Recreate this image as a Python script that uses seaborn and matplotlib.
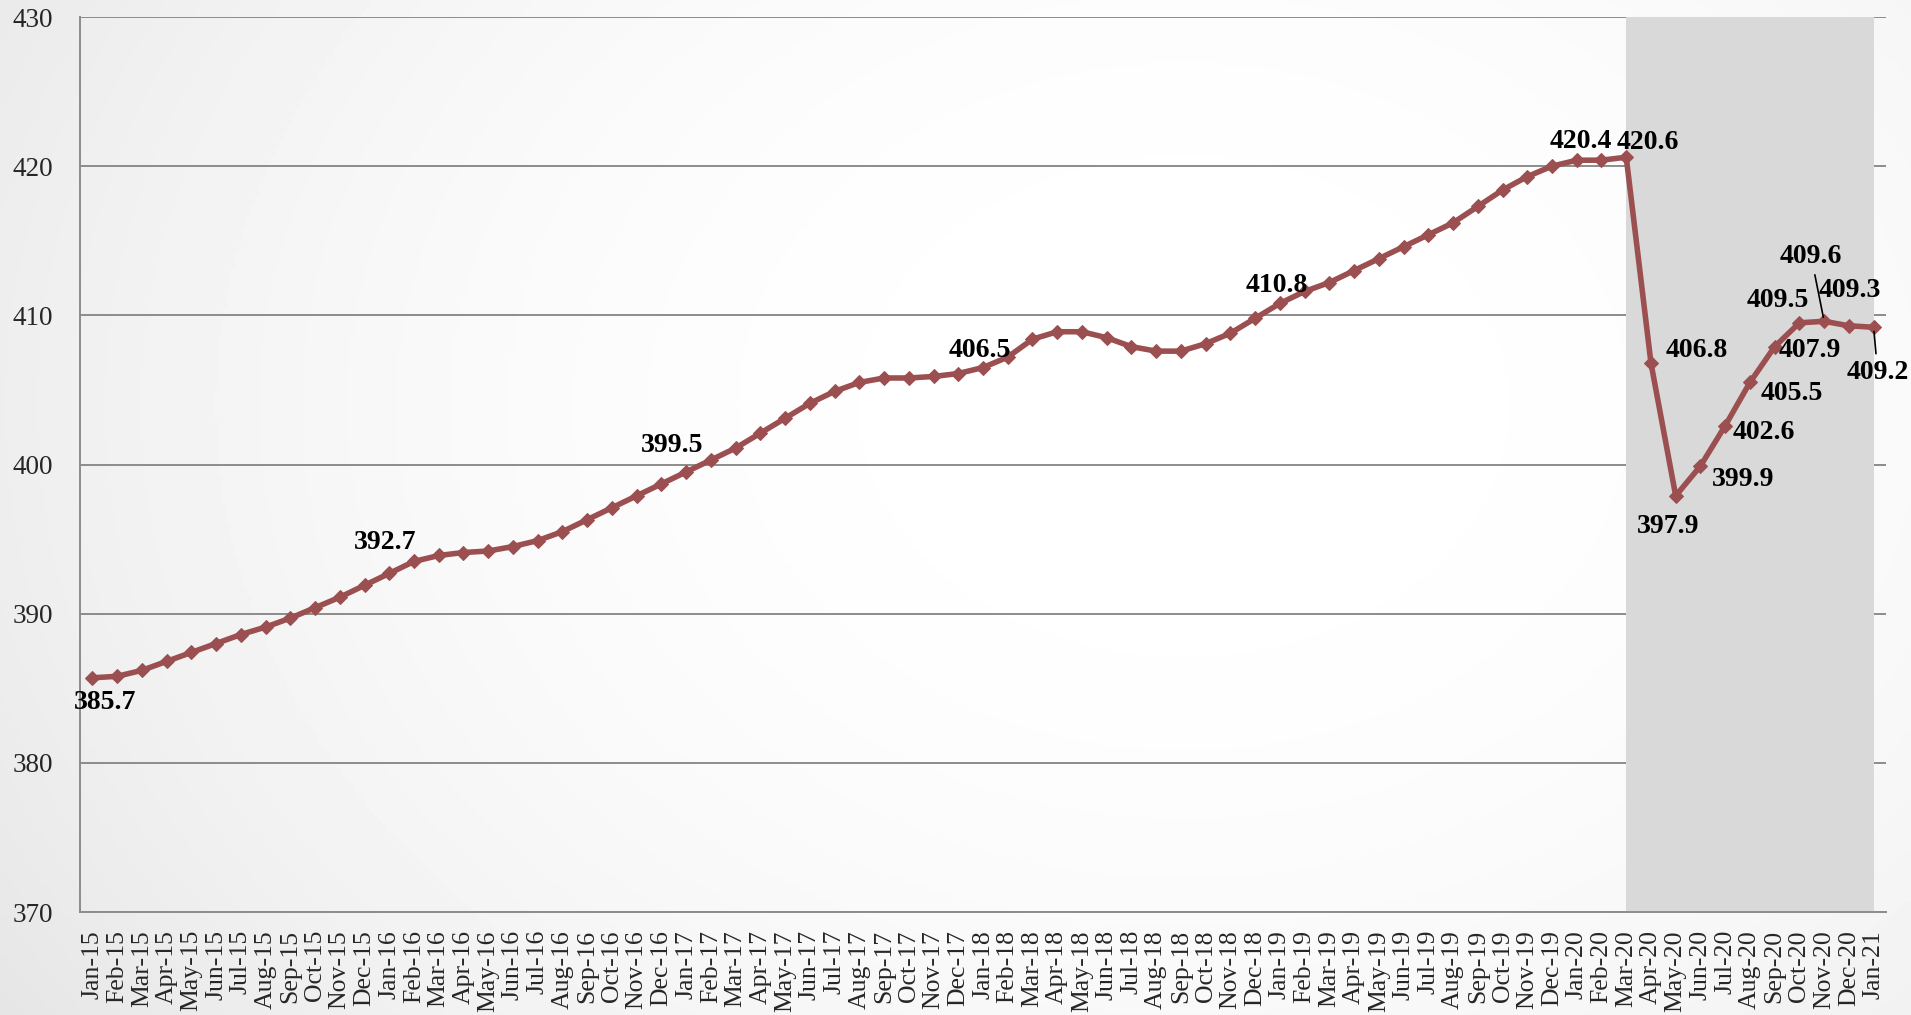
import numpy as np
import pandas as pd
import matplotlib
matplotlib.use("Agg")
import matplotlib.pyplot as plt
import seaborn as sns

# Datos mensuales (lectura del gráfico)
meses = pd.date_range("2015-01-01", "2021-01-01", freq="MS").strftime("%b-%y").tolist()
valores = [
    385.7, 385.8, 386.2, 386.8, 387.4, 388.0, 388.6, 389.1, 389.7, 390.4, 391.1, 391.9,
    392.7, 393.5, 393.9, 394.1, 394.2, 394.5, 394.9, 395.5, 396.3, 397.1, 397.9, 398.7,
    399.5, 400.3, 401.1, 402.1, 403.1, 404.1, 404.9, 405.5, 405.8, 405.8, 405.9, 406.1,
    406.5, 407.2, 408.4, 408.9, 408.9, 408.5, 407.9, 407.6, 407.6, 408.1, 408.8, 409.8,
    410.8, 411.6, 412.2, 413.0, 413.8, 414.6, 415.4, 416.2, 417.3, 418.4, 419.3, 420.0,
    420.4, 420.4, 420.6, 406.8, 397.9, 399.9, 402.6, 405.5, 407.9, 409.5, 409.6, 409.3,
    409.2,
]
y_ticks = [370, 380, 390, 400, 410, 420, 430]
inicio_sombra = "Mar-20"
fin_sombra = "Jan-21"

# meses con etiqueta -> desplazamiento del texto en pixeles (dx, dy) y si lleva línea guía
etiquetas = {
    "Jan-15": (13, -25, False),
    "Jan-16": (-4, 31, False),
    "Jan-17": (-14, 26, False),
    "Jan-18": (-3, 17, False),
    "Jan-19": (-3, 18, False),
    "Jan-20": (4, 19, False),
    "Mar-20": (22, 15, False),
    "Apr-20": (46, 13, False),
    "May-20": (-8, -31, False),
    "Jun-20": (43, -14, False),
    "Jul-20": (39, -7, False),
    "Aug-20": (42, -11, False),
    "Sep-20": (35, -4, False),
    "Oct-20": (-22, 22, False),
    "Nov-20": (-13, 65, True),
    "Dec-20": (1, 35, False),
    "Jan-21": (4, -45, True),
}

df = pd.DataFrame({"mes": meses, "valor": valores})
df["pos"] = np.arange(len(df))

sns.set_style("white")
plt.rcParams["font.family"] = ["Liberation Serif", "DejaVu Serif"]

fig = plt.figure(figsize=(19.11, 10.15), dpi=100)

# fondo con degradado radial (blanco al centro, gris en los bordes)
bg = fig.add_axes([0, 0, 1, 1], zorder=-10)
gx, gy = np.meshgrid(np.linspace(0, 1, 480), np.linspace(0, 1, 260))
r = np.sqrt(((gx - 0.62) / 0.62) ** 2 + ((gy - 0.6) / 0.9) ** 2)
shade = 1.0 - 0.14 * np.clip(r, 0, 1.4) ** 2.2 / 1.4 ** 2.2
bg.imshow(shade, cmap="gray", vmin=0, vmax=1, aspect="auto",
          extent=[0, 1, 0, 1], origin="lower")
bg.axis("off")

ax = fig.add_axes([80 / 1911, 103 / 1015, (1886 - 80) / 1911, (912 - 17) / 1015])
ax.set_facecolor("none")

color_linea = "#9B4F50"
gris = "#8C8C8C"

i0 = meses.index(inicio_sombra)
i1 = meses.index(fin_sombra)
ax.axvspan(i0, i1, color="#D9D9D9", zorder=1, lw=0)

sns.lineplot(data=df, x="pos", y="valor", ax=ax, color=color_linea, lw=4,
             marker="D", markersize=7.5, markeredgecolor=color_linea, zorder=3)

ax.set_xlim(-0.5, len(meses) - 0.5)
ax.set_ylim(370, 430)
ax.set_yticks(y_ticks)
ax.set_yticklabels([str(v) for v in y_ticks], fontsize=19.5)
ax.set_xticks(df["pos"])
ax.set_xticklabels(meses, rotation=90, fontsize=18.5)
ax.set_xticks(np.arange(-0.5, len(meses)), minor=True)
ax.tick_params(axis="x", which="major", length=0, pad=13)
ax.tick_params(axis="x", which="minor", length=6, width=1.3, color=gris, direction="out")
ax.tick_params(axis="y", length=6.5, width=1.3, color=gris, direction="out", pad=13)
ax.set_xlabel("")
ax.set_ylabel("")

ax.set_axisbelow(True)
ax.yaxis.grid(True, color=gris, lw=1.4)
ax.xaxis.grid(False)
for s in ["top", "right"]:
    ax.spines[s].set_visible(False)
for s in ["left", "bottom"]:
    ax.spines[s].set_color(gris)
    ax.spines[s].set_linewidth(1.4)

for mes, (dx, dy, guia) in etiquetas.items():
    i = meses.index(mes)
    v = valores[i]
    props = None
    if guia:
        props = dict(arrowstyle="-", color="black", lw=1.2, shrinkA=2, shrinkB=3)
    ax.annotate(f"{v:.1f}", xy=(i, v), xytext=(dx, dy), textcoords="offset pixels",
                ha="center", va="center", fontsize=20, fontweight="bold",
                color="black", arrowprops=props, zorder=5)

fig.savefig("out.png", dpi=100)
